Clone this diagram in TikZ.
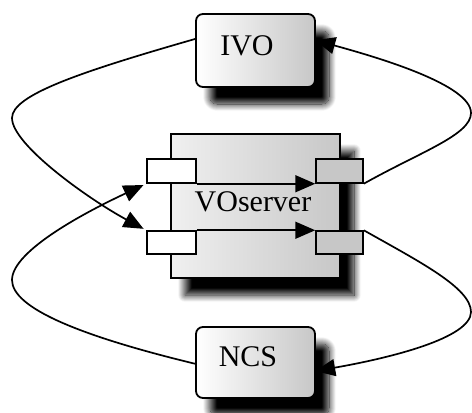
\documentclass[tikz,border=0pt]{standalone}
\usepackage{fontspec}
\setmainfont{Liberation Serif}
\usetikzlibrary{arrows.meta,shadows.blur,calc}

\tikzset{
  box/.style={draw=black, line width=1.8pt, left color=white, right color=black!22,
    blur shadow={shadow xshift=14pt, shadow yshift=-17pt, shadow blur steps=14,
      shadow blur radius=7pt, shadow opacity=100}},
  roundbox/.style={box, rounded corners=7pt},
  compbox/.style={box, left color=black!6, right color=black!22},
  inport/.style={draw=black, line width=1.5pt, fill=white},
  outport/.style={draw=black, line width=1.5pt, fill=black!22},
  lbl/.style={font=\fontsize{30}{32}\selectfont, inner sep=0pt},
  link/.style={draw=black, line width=1.7pt,
    arrows={-Stealth[inset=0pt, length=20pt, width=17pt, fill=black]}},
}

\begin{document}
\begin{tikzpicture}[x=1pt, y=-1pt]
  \useasboundingbox (0,0) rectangle (472,413);

  % component boxes
  \path[roundbox] (196,14) rectangle (315,87);
  \node[inner sep=0pt, minimum width=119pt, minimum height=73pt] (ivo) at (255.5,50.5) {};
  \path[roundbox] (196,327) rectangle (315,398);
  \node[inner sep=0pt, minimum width=119pt, minimum height=71pt] (ncs) at (255.5,362.5) {};
  \path[compbox] (171,134) rectangle (340,278);
  \node[inner sep=0pt, minimum width=169pt, minimum height=144pt] (vos) at (255.5,206) {};

  % ports
  \node[inport, inner sep=0pt, minimum width=49pt, minimum height=24pt] (pl1) at (171.5,171) {};
  \node[inport, inner sep=0pt, minimum width=49pt, minimum height=23pt] (pl2) at (171.5,242.5) {};
  \node[outport, inner sep=0pt, minimum width=47pt, minimum height=24pt] (pr1) at (339.5,171) {};
  \node[outport, inner sep=0pt, minimum width=47pt, minimum height=23pt] (pr2) at (339.5,242.5) {};

  % labels
  \node[lbl] (ivotxt) at (247,46) {IVO};
  \node[lbl] (ncstxt) at (248,357) {NCS};
  \node[lbl] (vostxt) at (253,202) {VOserver};

  % internal flows
  \draw[link] (pl1.south east) -- (pr1.south west);
  \draw[link] (pl2.north east) -- (pr2.north west);

  % IVO -> lower input port
  \coordinate (ivoL) at ($(ivo.north west)!0.34!(ivo.south west)$);
  \draw[link, shorten >=3pt] (ivoL) .. controls (80,72) and (12,95) .. (12,118)
    .. controls (12,145) and (90,200) .. (pl2.north west);

  % NCS -> upper input port
  \coordinate (ncsL) at ($(ncs.north west)!0.52!(ncs.south west)$);
  \draw[link, shorten >=3pt] (ncsL) .. controls (80,336) and (12,308) .. (12,280)
    .. controls (12,250) and (90,210) .. (pl1.south west);

  % upper output port -> IVO
  \coordinate (ivoR) at ($(ivo.north east)!0.36!(ivo.south east)$);
  \draw[link] (pr1.south east) .. controls (420,152) and (471,135) .. (471,113)
    .. controls (471,85) and (380,58) .. (ivoR);

  % lower output port -> NCS
  \coordinate (ncsR) at ($(ncs.north east)!0.62!(ncs.south east)$);
  \draw[link] (pr2.north east) .. controls (420,262) and (471,288) .. (471,312)
    .. controls (471,338) and (390,358) .. (ncsR);
\end{tikzpicture}
\end{document}
